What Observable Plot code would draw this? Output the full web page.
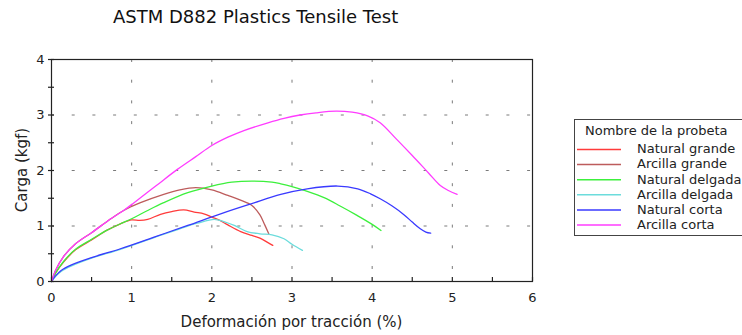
<!DOCTYPE html>
<html><head><meta charset="utf-8">
<script src="https://cdn.jsdelivr.net/npm/d3@7"></script>
<script src="https://cdn.jsdelivr.net/npm/@observablehq/plot@0.6"></script>
<style>
body{margin:0;background:#fff;font-family:"DejaVu Sans",Verdana,sans-serif;color:#222;}
#wrap{position:relative;width:742px;height:335px;overflow:hidden;}
#wrap svg{position:absolute;left:0;top:0;}
.abs{position:absolute;white-space:nowrap;line-height:1;}
</style></head><body><div id="wrap"></div><script>
const chartTitle = "ASTM D882 Plastics Tensile Test";
const xLabel = "Deformación por tracción (%)";
const yLabel = "Carga (kgf)";
const legendTitle = "Nombre de la probeta";
const seriesNames = ["Natural grande","Arcilla grande","Natural delgada","Arcilla delgada","Natural corta","Arcilla corta"];
const seriesColors = ["#ff3b3b","#bd5c5c","#3cf03c","#6cdcdc","#3a3aff","#ff3cff"];
const xTicks = [0,1,2,3,4,5,6];
const yTicks = [0,1,2,3,4];
const xMinorTicks = [0,0.5,1,1.5,2,2.5,3,3.5,4,4.5,5,5.5,6];
const yMinorTicks = [0,0.5,1,1.5,2,2.5,3,3.5,4];
const xGrid = [1,2,3,4,5];
const yGrid = [1,2,3];

const naturalGrande = [[0,0],[0.05,0.15],[0.15,0.35],[0.3,0.57],[0.5,0.75],[0.7,0.93],[0.86,1.04],[1.0,1.11],[1.1,1.1],[1.2,1.12],[1.36,1.21],[1.5,1.26],[1.65,1.29],[1.78,1.25],[1.9,1.22],[2.0,1.16],[2.1,1.1],[2.2,1.02],[2.36,0.9],[2.5,0.83],[2.6,0.78],[2.7,0.7],[2.76,0.65]];
const arcillaGrande = [[0,0],[0.05,0.2],[0.15,0.45],[0.3,0.68],[0.5,0.88],[0.75,1.14],[0.9,1.28],[1.11,1.42],[1.4,1.57],[1.6,1.65],[1.8,1.69],[2.0,1.65],[2.2,1.55],[2.35,1.47],[2.5,1.37],[2.6,1.2],[2.66,1.02],[2.71,0.86]];
const naturalDelgada = [[0,0],[0.05,0.15],[0.15,0.36],[0.3,0.58],[0.5,0.76],[0.7,0.93],[0.86,1.04],[1.0,1.13],[1.2,1.28],[1.4,1.42],[1.7,1.6],[2.0,1.72],[2.25,1.79],[2.5,1.81],[2.75,1.79],[2.86,1.76],[3.0,1.71],[3.2,1.62],[3.4,1.51],[3.6,1.36],[3.8,1.2],[4.0,1.03],[4.11,0.92]];
const arcillaDelgada = [[0,0],[0.05,0.09],[0.12,0.18],[0.25,0.28],[0.5,0.42],[0.86,0.58],[1.28,0.79],[1.6,0.95],[1.82,1.05],[2.03,1.12],[2.15,1.08],[2.28,1.01],[2.44,0.9],[2.6,0.86],[2.75,0.84],[2.9,0.77],[3.0,0.67],[3.13,0.56]];
const naturalCorta = [[0,0],[0.05,0.1],[0.12,0.2],[0.25,0.3],[0.5,0.43],[0.86,0.59],[1.28,0.8],[1.7,1.01],[2.11,1.22],[2.49,1.4],[2.86,1.57],[3.19,1.67],[3.57,1.72],[3.82,1.67],[3.98,1.58],[4.1,1.49],[4.25,1.36],[4.4,1.2],[4.5,1.07],[4.6,0.95],[4.67,0.89],[4.73,0.87]];
const arcillaCorta = [[0,0],[0.05,0.2],[0.15,0.45],[0.3,0.68],[0.5,0.88],[0.75,1.14],[0.9,1.28],[1.03,1.42],[1.3,1.72],[1.57,2.02],[1.8,2.25],[2.0,2.45],[2.2,2.6],[2.4,2.72],[2.7,2.86],[2.9,2.94],[3.1,3.0],[3.3,3.04],[3.55,3.07],[3.75,3.05],[3.95,2.98],[4.1,2.86],[4.3,2.57],[4.5,2.27],[4.7,1.96],[4.85,1.73],[4.95,1.64],[5.06,1.57]];

const seriesData = [naturalGrande, arcillaGrande, naturalDelgada, arcillaDelgada, naturalCorta, arcillaCorta];
const rows = [];
seriesData.forEach((s, i) => s.forEach(([x, y]) => rows.push({name: seriesNames[i], x, y})));

const W = 742, H = 335, mL = 51, mR = 210, mT = 59, mB = 54;
const xDomain = [0, 6], yDomain = [0, 4];
const dyPx = (yDomain[1] - yDomain[0]) / (H - mT - mB);
const dxPx = (xDomain[1] - xDomain[0]) / (W - mL - mR);

const chart = Plot.plot({
  width: W, height: H, marginLeft: mL, marginRight: mR, marginTop: mT, marginBottom: mB,
  style: {fontFamily: '"DejaVu Sans", Verdana, sans-serif', fontSize: "13px", color: "#222", background: "transparent", overflow: "visible"},
  x: {domain: xDomain},
  y: {domain: yDomain},
  color: {domain: seriesNames, range: seriesColors},
  marks: [
    Plot.ruleY(yGrid, {stroke: "#7a7a7a", strokeDasharray: "3,17.7", strokeWidth: 1}),
    Plot.ruleX(xGrid, {stroke: "#7a7a7a", strokeDasharray: "3,17.7", strokeWidth: 1}),
    Plot.line(rows, {x: "x", y: "y", z: "name", stroke: "name", strokeWidth: 1.3, curve: "catmull-rom"}),
    Plot.frame({stroke: "#222", strokeWidth: 1.2}),
    Plot.ruleX(xMinorTicks, {y1: 0, y2: 4 * dyPx, stroke: "#222", strokeWidth: 1.2}),
    Plot.ruleY(yMinorTicks, {x1: -3 * dxPx, x2: 3 * dxPx, stroke: "#222", strokeWidth: 1.2}),
    Plot.axisX({ticks: xTicks, tickFormat: d3.format("d"), tickSize: 0, tickPadding: 11, label: null, fontSize: 13}),
    Plot.axisY({ticks: yTicks, tickFormat: d3.format("d"), tickSize: 0, tickPadding: 7, label: null, fontSize: 13})
  ]
});

const wrap = document.getElementById("wrap");
wrap.appendChild(chart);

function addText(txt, css) {
  const d = document.createElement("div");
  d.className = "abs";
  d.textContent = txt;
  Object.assign(d.style, css);
  wrap.appendChild(d);
  return d;
}
addText(chartTitle, {left: "113px", top: "8px", fontSize: "18px", color: "#111"});
addText(xLabel, {left: mL + "px", width: (W - mL - mR) + "px", textAlign: "center", top: "315px", fontSize: "15px"});
addText(yLabel, {left: "22px", top: "170px", fontSize: "15px", transform: "translate(-50%,-50%) rotate(-90deg)"});

// legend (box + swatches in a small svg, text as html)
const lg = d3.create("svg").attr("width", W).attr("height", H).style("pointer-events", "none");
lg.append("rect").attr("x", 574.5).attr("y", 119.5).attr("width", 200).attr("height", 116)
  .attr("fill", "none").attr("stroke", "#444").attr("stroke-width", 1);
lg.selectAll("line.sw").data(seriesNames).join("line")
  .attr("x1", 577).attr("x2", 621)
  .attr("y1", (d, i) => 149.5 + i * 15.1).attr("y2", (d, i) => 149.5 + i * 15.1)
  .attr("stroke", (d, i) => seriesColors[i]).attr("stroke-width", 1.5);
wrap.appendChild(lg.node());
addText(legendTitle, {left: "585px", top: "124px", fontSize: "13px"});
seriesNames.forEach((n, i) => {
  const yc = 149.3 + i * 15.1;
  addText(n, {left: "637px", top: (yc - 7) + "px", fontSize: "13px"});
});
</script></body></html>
